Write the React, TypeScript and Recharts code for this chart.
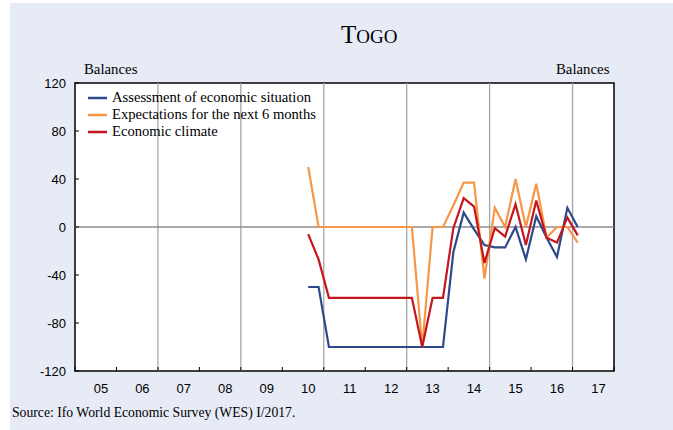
import React from 'react';
import { CartesianGrid, Legend, Line, LineChart, ReferenceArea, ReferenceLine, XAxis, YAxis } from 'recharts';

// quarters are counted from 2005 Q1 (index 0); the series start in 2010 Q3
const FIRST_QUARTER = 22;
const QUARTER_COUNT = 52;
const YEARS = [2005, 2006, 2007, 2008, 2009, 2010, 2011, 2012, 2013, 2014, 2015, 2016, 2017];
const GRID_YEARS = [2007, 2009, 2011, 2013, 2015, 2017];
const Y_TICKS = [-120, -80, -40, 0, 40, 80, 120];

// 2010 Q3 .. 2017 Q1
const assessment = [-50, -50, -100, -100, -100, -100, -100, -100, -100, -100, -100, -100, -100, -100, -21, 12, -2, -15, -17, -17, 0, -27, 9, -9, -25, 16, 0];
const expectations = [50, 0, 0, 0, 0, 0, 0, 0, 0, 0, 0, -100, 0, 0, 18, 37, 37, -43, 16, 0, 40, 0, 36, -9, 0, 0, -13];
const climate = [-6, -27, -59, -59, -59, -59, -59, -59, -59, -59, -59, -100, -59, -59, -1, 24, 17, -30, -1, -8, 19, -15, 22, -9, -13, 8, -7];

const SERIES = [
	{ key: 'a', name: 'Assessment of economic situation', color: '#2c4a8a', values: assessment },
	{ key: 'e', name: 'Expectations for the next 6 months', color: '#f79646', values: expectations },
	{ key: 'c', name: 'Economic climate', color: '#c4161c', values: climate }
];

const SERIF = '"Liberation Serif", "Times New Roman", serif';
const SANS = '"Liberation Sans", Arial, sans-serif';

const rows = Array.from({ length: QUARTER_COUNT }, (_, i) => {
	const row: Record<string, number | null> = { x: i + 0.5 };
	SERIES.forEach(s => {
		const v = s.values[i - FIRST_QUARTER];
		row[s.key] = v === undefined ? null : v;
	});
	return row;
});

// year boundaries get a small tick, labels sit in the third quarter of each year
const yearStart = (y: number) => (y - YEARS[0]) * 4;
const xTicks = YEARS.flatMap(y => [yearStart(y), yearStart(y) + 2.5]).concat(QUARTER_COUNT);

const XTick = (props: any) => {
	const { x, y, payload } = props;
	const v = payload.value as number;
	if (v % 4 === 0) {
		return <line x1={x} x2={x} y1={y} y2={y - 4} stroke="#000" strokeWidth={1} />;
	}
	const year = YEARS[Math.floor(v / 4)];
	return (
		<text x={x} y={y + 22} textAnchor="middle" fontFamily={SANS} fontSize={13} fill="#000">
			{String(year).slice(2)}
		</text>
	);
};

const LeftTick = (props: any) => {
	const { x, y, payload } = props;
	return (
		<g>
			<line x1={x + 9} x2={x + 13} y1={y} y2={y} stroke="#000" strokeWidth={1} />
			<text x={x} y={y + 4.5} textAnchor="end" fontFamily={SANS} fontSize={13} fill="#000">
				{payload.value}
			</text>
		</g>
	);
};

const RightTick = (props: any) => {
	const { x, y, payload } = props;
	return (
		<g>
			<line x1={x - 9} x2={x - 13} y1={y} y2={y} stroke="#000" strokeWidth={1} />
			<text x={x} y={y + 4.5} textAnchor="start" fontFamily={SANS} fontSize={13} fill="#000">
				{payload.value}
			</text>
		</g>
	);
};

// legend keeps the series order of the original chart
const LegendBox = () => (
	<div style={{ fontFamily: SERIF, fontSize: 14.6, color: '#000', lineHeight: '17px' }}>
		{SERIES.map(s => (
			<div key={s.key} style={{ display: 'flex', alignItems: 'center', height: 17 }}>
				<svg width={24} height={17} style={{ flex: 'none' }}>
					<line x1={2} x2={21} y1={9} y2={9} stroke={s.color} strokeWidth={2.5} />
				</svg>
				<span style={{ marginLeft: 2, whiteSpace: 'nowrap' }}>{s.name}</span>
			</div>
		))}
	</div>
);

export default function App() {
	return (
		<div style={{ position: 'absolute', left: 0, top: 0, width: 673, height: 430, background: '#fff', overflow: 'hidden' }}>
			<div style={{ position: 'absolute', left: 10, top: 3, right: 0, bottom: 0, background: '#e7ebf6' }} />
			<div style={{ position: 'absolute', left: 0, top: 0 }}>
				<LineChart width={673} height={430} data={rows} margin={{ top: 83, right: 0, bottom: 0, left: 0 }}>
					<CartesianGrid fill="#fff" horizontal={false} vertical={false} yAxisId="l" />
					<XAxis
						dataKey="x"
						type="number"
						domain={[0, QUARTER_COUNT]}
						ticks={xTicks}
						interval={0}
						tick={<XTick />}
						tickLine={false}
						tickSize={0}
						tickMargin={0}
						axisLine={false}
						height={59}
					/>
					<YAxis
						yAxisId="l"
						domain={[-120, 120]}
						ticks={Y_TICKS}
						interval={0}
						tick={<LeftTick />}
						tickLine={false}
						tickSize={0}
						tickMargin={9}
						axisLine={false}
						width={75}
					/>
					<YAxis
						yAxisId="r"
						orientation="right"
						domain={[-120, 120]}
						ticks={Y_TICKS}
						interval={0}
						tick={<RightTick />}
						tickLine={false}
						tickSize={0}
						tickMargin={9}
						axisLine={false}
						width={59}
					/>
					{GRID_YEARS.map(y => (
						<ReferenceLine key={y} yAxisId="l" x={yearStart(y)} stroke="#a6a6a6" strokeWidth={1.3} />
					))}
					<ReferenceLine yAxisId="l" y={0} stroke="#8c8c8c" strokeWidth={1.3} />
					<ReferenceArea yAxisId="l" x1={0} x2={QUARTER_COUNT} y1={-120} y2={120} fill="none" stroke="#000" strokeWidth={1.5} />
					<Legend
						layout="vertical"
						align="center"
						verticalAlign="middle"
						content={<LegendBox />}
						wrapperStyle={{ left: 86, top: 89, width: 'auto' }}
					/>
					{SERIES.map(s => (
						<Line
							key={s.key}
							yAxisId="l"
							type="linear"
							dataKey={s.key}
							name={s.name}
							stroke={s.color}
							strokeWidth={2.2}
							dot={false}
							isAnimationActive={false}
						/>
					))}
				</LineChart>
			</div>
			<div style={{ position: 'absolute', left: 341, top: 22, fontFamily: SERIF, color: '#000', lineHeight: '26px', whiteSpace: 'nowrap' }}>
				<span style={{ fontSize: 25 }}>T</span>
				<span style={{ fontSize: 19 }}>OGO</span>
			</div>
			<div style={{ position: 'absolute', left: 84, top: 61, fontFamily: SERIF, fontSize: 14.8, color: '#000' }}>Balances</div>
			<div style={{ position: 'absolute', left: 556, top: 61, fontFamily: SERIF, fontSize: 14.8, color: '#000' }}>Balances</div>
			<div style={{ position: 'absolute', left: 12, top: 405, fontFamily: SERIF, fontSize: 13.7, color: '#000', whiteSpace: 'nowrap' }}>
				Source: Ifo World Economic Survey (WES) I/2017.
			</div>
		</div>
	);
}
